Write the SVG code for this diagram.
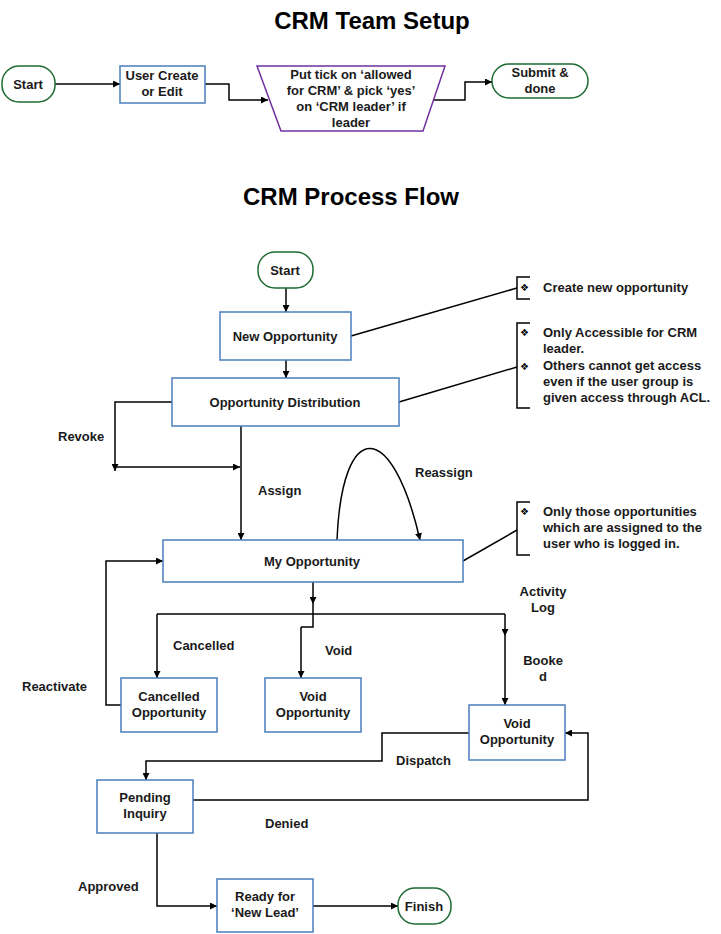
<svg xmlns="http://www.w3.org/2000/svg" width="721" height="934" viewBox="0 0 721 934">
<defs>
<marker id="ah" viewBox="0 0 10 10" refX="10" refY="5" markerWidth="7" markerHeight="7" markerUnits="userSpaceOnUse" orient="auto">
<path d="M0,0 L10,5 L0,10 z" fill="#000"/>
</marker>
<style>
text{font-family:"Liberation Sans",Arial,sans-serif;font-weight:bold;font-size:13px;fill:#1a1a1a}
.t{text-anchor:middle}
.title{font-size:24px;text-anchor:middle;fill:#000}
.box{fill:#fff;stroke:#4a7ebb;stroke-width:1.5}
.term{fill:#fff;stroke:#1e6b34;stroke-width:1.5}
.trap{fill:#fff;stroke:#7030a0;stroke-width:1.5}
.c{fill:none;stroke:#000;stroke-width:1.5}
.ca{fill:none;stroke:#000;stroke-width:1.5;marker-end:url(#ah)}
.br{fill:none;stroke:#000;stroke-width:1.5}
.bul{font-family:"DejaVu Sans",sans-serif;font-size:10px;font-weight:normal;fill:#000}
</style>
</defs>
<rect width="721" height="934" fill="#fff"/>
<text class="title" x="372" y="29">CRM Team Setup</text>
<text class="title" x="351" y="205">CRM Process Flow</text>

<g id="connectors">
<path class="ca" d="M55,84 H120"/>
<path class="ca" d="M205,84 H229 V100 H268"/>
<path class="ca" d="M434,100 H465 V82 H492"/>
<path class="ca" d="M286,288 V312"/>
<path class="ca" d="M286,360 V378"/>
<path class="ca" d="M241,426 V540"/>
<path class="ca" d="M172,402 H115 V471"/>
<path class="ca" d="M115,467 H240"/>
<path class="ca" d="M337,540 C342,418 392,418 420,540"/>
<path class="c" d="M351,336 L517,288"/>
<path class="c" d="M399,402 L517,367"/>
<path class="c" d="M463,561 L517,530"/>
<path class="ca" d="M313,582 V604"/>
<path class="c" d="M313,604 V627 H301"/>
<path class="ca" d="M301,627 V678"/>
<path class="c" d="M157,614 H505"/>
<path class="ca" d="M157,614 V678"/>
<path class="ca" d="M505,614 V636"/>
<path class="ca" d="M505,636 V705"/>
<path class="ca" d="M121,705 H106 V561 H163"/>
<path class="ca" d="M469,733 H382 V761 H146 V780"/>
<path class="ca" d="M193,800 H588 V733 H565"/>
<path class="ca" d="M157,833 V906 H217"/>
<path class="ca" d="M313,906 H398"/>
</g>

<g id="start1"><rect class="term" x="2" y="66" width="53" height="36" rx="17"/><text class="t" x="28" y="89">Start</text></g>
<g id="user-create"><rect class="box" x="120" y="66" width="85" height="37"/><text class="t" x="162" y="80">User Create</text><text class="t" x="162" y="96">or Edit</text></g>
<g id="put-tick"><path class="trap" d="M257,66 H445 L423,131 H281 Z"/>
<text class="t" x="351" y="79">Put tick on ‘allowed</text><text class="t" x="351" y="95">for CRM’ &amp; pick ‘yes’</text><text class="t" x="351" y="111">on ‘CRM leader’ if</text><text class="t" x="351" y="127">leader</text></g>
<g id="submit"><rect class="term" x="492" y="64" width="96" height="34" rx="17"/><text class="t" x="540" y="77">Submit &amp;</text><text class="t" x="540" y="93">done</text></g>

<g id="start2"><rect class="term" x="258" y="252" width="55" height="36" rx="17"/><text class="t" x="285" y="275">Start</text></g>
<g id="new-opp"><rect class="box" x="220" y="312" width="131" height="48"/><text class="t" x="285" y="341">New Opportunity</text></g>
<g id="opp-dist"><rect class="box" x="172" y="378" width="227" height="48"/><text class="t" x="285" y="407">Opportunity Distribution</text></g>
<g id="my-opp"><rect class="box" x="163" y="540" width="300" height="42"/><text class="t" x="312" y="566">My Opportunity</text></g>
<g id="cancelled-opp"><rect class="box" x="121" y="678" width="96" height="54"/><text class="t" x="169" y="701">Cancelled</text><text class="t" x="169" y="717">Opportunity</text></g>
<g id="void-opp1"><rect class="box" x="265" y="678" width="96" height="54"/><text class="t" x="313" y="701">Void</text><text class="t" x="313" y="717">Opportunity</text></g>
<g id="void-opp2"><rect class="box" x="469" y="705" width="96" height="55"/><text class="t" x="517" y="728">Void</text><text class="t" x="517" y="744">Opportunity</text></g>
<g id="pending"><rect class="box" x="97" y="780" width="96" height="53"/><text class="t" x="145" y="802">Pending</text><text class="t" x="145" y="818">Inquiry</text></g>
<g id="ready"><rect class="box" x="217" y="879" width="96" height="53"/><text class="t" x="265" y="901">Ready for</text><text class="t" x="265" y="917">‘New Lead’</text></g>
<g id="finish"><rect class="term" x="398" y="888" width="53" height="36" rx="17"/><text class="t" x="424" y="911">Finish</text></g>

<g id="note1"><path class="br" d="M530,277 H517 V299 H530"/><text class="bul" x="520" y="291">❖</text><text x="543" y="292">Create new opportunity</text></g>
<g id="note2"><path class="br" d="M530,323 H517 V408 H530"/><text class="bul" x="520" y="336">❖</text><text class="bul" x="520" y="370">❖</text>
<text x="543" y="337">Only Accessible for CRM</text><text x="543" y="353">leader.</text><text x="543" y="370">Others cannot get access</text><text x="543" y="386">even if the user group is</text><text x="543" y="402">given access through ACL.</text></g>
<g id="note3"><path class="br" d="M530,502 H517 V555 H530"/><text class="bul" x="520" y="515">❖</text>
<text x="543" y="516">Only those opportunities</text><text x="543" y="532">which are assigned to the</text><text x="543" y="548">user who is logged in.</text></g>

<g id="labels">
<text x="58" y="441">Revoke</text>
<text x="258" y="495">Assign</text>
<text x="415" y="477">Reassign</text>
<text class="t" x="543" y="596">Activity</text><text class="t" x="543" y="612">Log</text>
<text x="173" y="650">Cancelled</text>
<text x="325" y="655">Void</text>
<text class="t" x="543" y="665">Booke</text><text class="t" x="543" y="681">d</text>
<text x="22" y="691">Reactivate</text>
<text x="396" y="765">Dispatch</text>
<text x="265" y="828">Denied</text>
<text x="78" y="891">Approved</text>
</g>
</svg>
